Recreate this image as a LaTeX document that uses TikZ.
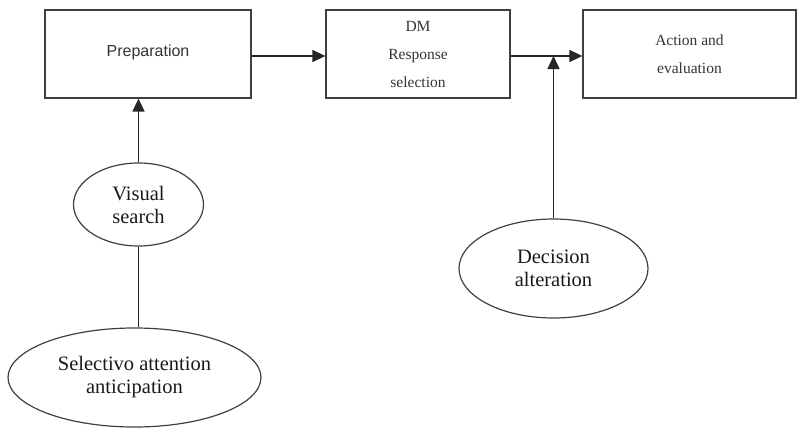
\documentclass[tikz,border=0pt]{standalone}
\usepackage{fontspec}
\setmainfont{Liberation Serif}
\newfontfamily\arialf{Liberation Sans}
\usetikzlibrary{shapes.geometric,arrows.meta}
\begin{document}
\begin{tikzpicture}[x=1pt,y=-1pt,
  line/.style={draw=black!85,line width=1.5pt},
  arr/.style={line,-{Triangle[length=13pt,width=12pt]}},
  box/.style={draw=black!75,line width=1.3pt,rectangle,inner sep=0pt,align=center,text=black!80},
  oval/.style={draw=black!75,line width=1.2pt,ellipse,inner sep=0pt,align=center,text=black!90,
    font=\fontsize{20.5}{23}\selectfont}]
\useasboundingbox (0,0) rectangle (797,428);
\node[box,minimum width=206pt,minimum height=88pt,font=\arialf\fontsize{16}{19}\selectfont] (prep) at (148,54) {\raisebox{6pt}{Preparation}};
\node[box,minimum width=184pt,minimum height=88pt,font=\fontsize{15.5}{27.5}\selectfont] (dm) at (418,54) {\raisebox{-3pt}{\begin{tabular}{@{}c@{}}DM\\Response\\selection\end{tabular}}};
\node[box,minimum width=213pt,minimum height=88pt,font=\fontsize{15.5}{28}\selectfont] (act) at (689.5,54) {\begin{tabular}{@{}c@{}}Action and\\evaluation\end{tabular}};
\node[oval,minimum width=130pt,minimum height=83pt] (vis) at (138.5,204.5) {Visual\\search};
\node[oval,minimum width=253pt,minimum height=99pt] (sel) at (134.5,377.5) {\raisebox{5pt}{\begin{tabular}{@{}c@{}}Selectivo attention\\anticipation\end{tabular}}};
\node[oval,minimum width=189pt,minimum height=99pt] (dec) at (553.5,268.5) {Decision\\alteration};
\coordinate (join) at (553.5,56);
\draw[arr] (prep.east |- 0,56) -- (dm.west |- 0,56);
\draw[arr] (dm.east |- 0,56) -- (act.west |- 0,56);
\draw[arr] (dec.north) -- (join);
\draw[arr] (vis.north) -- (vis.north |- prep.south);
\draw[line] (vis.south) -- (vis.south |- sel.north);
\end{tikzpicture}
\end{document}
